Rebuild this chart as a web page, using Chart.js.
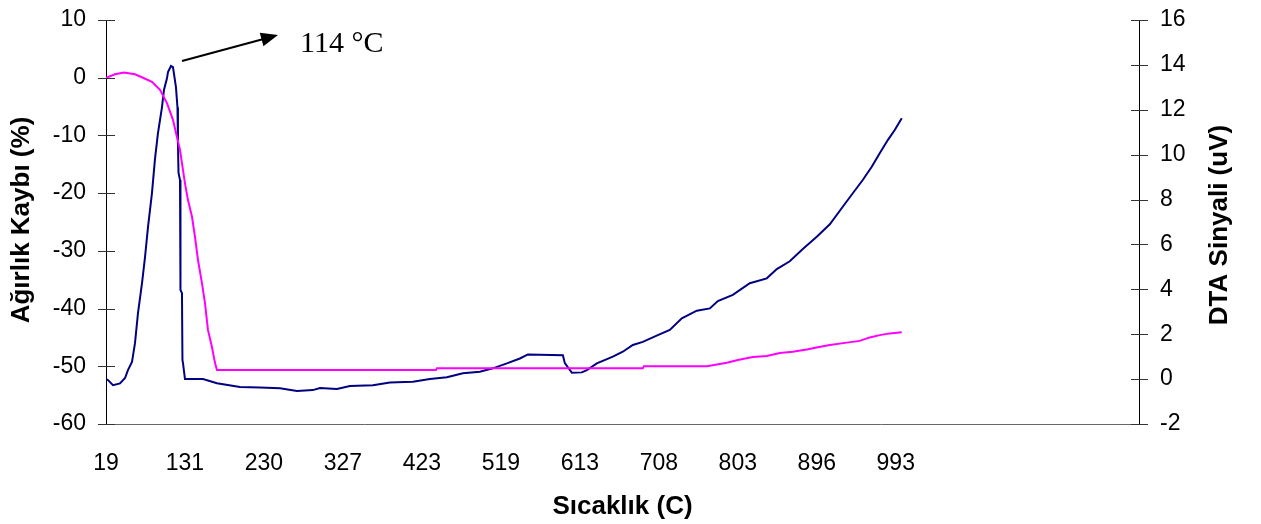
<!DOCTYPE html>
<html>
<head>
<meta charset="utf-8">
<script src="https://cdn.jsdelivr.net/npm/chart.js@4.4.0/dist/chart.umd.min.js"></script>
<style>body{margin:0;background:#fff}</style>
</head>
<body>
<canvas id="tgaChart" width="1261" height="524"></canvas>
<script>
// x positions are in "label steps": 0 = 19, 1 = 131, ... 10 = 993
var tempLabels = ['19', '131', '230', '327', '423', '519', '613', '708', '803', '896', '993'];

// Ağırlık kaybı (%) - left axis
var weightX = [0, 0.114, 0.228, 0.367, 0.468, 0.582, 0.684, 0.772, 0.848, 0.899, 0.937, 1.0, 1.038, 1.089,
    1.127, 1.165, 1.215, 1.253, 1.291, 1.342, 1.38, 1.405, 4.177, 4.19, 6.797, 6.81, 7.608, 7.861, 8.0, 8.19,
    8.367, 8.532, 8.696, 8.873, 9.013, 9.165, 9.38, 9.544, 9.671, 9.797, 9.924, 10.076];
var weightLoss = [0, 0.6, 0.9, 0.6, 0, -0.7, -2.1, -4.4, -7.3, -10.3, -12.5, -18.3, -21.2, -24.1,
    -27.6, -31.6, -35.6, -39.0, -43.7, -46.7, -49.4, -50.65, -50.65, -50.36, -50.36, -50.0, -50.0, -49.4, -48.9, -48.4,
    -48.2, -47.7, -47.5, -47.1, -46.7, -46.3, -45.9, -45.6, -45.0, -44.6, -44.3, -44.1];

// DTA sinyali (uV) - right axis
var dtaX = [0.013, 0.089, 0.177, 0.241, 0.278, 0.329, 0.367, 0.405, 0.456, 0.494, 0.532, 0.582, 0.62, 0.658,
    0.709, 0.734, 0.772, 0.785, 0.823, 0.848, 0.861, 0.886, 0.905, 0.911, 0.918, 0.937, 0.943, 0.962, 0.968,
    0.975, 1.0, 1.101, 1.228, 1.405, 1.696, 1.949, 2.203, 2.418, 2.62, 2.709, 2.924, 3.089, 3.38, 3.595, 3.886,
    4.101, 4.316, 4.519, 4.734, 4.899, 5.076, 5.241, 5.342, 5.785, 5.81, 5.899, 6.025, 6.089, 6.215, 6.418,
    6.544, 6.671, 6.797, 6.987, 7.139, 7.291, 7.481, 7.646, 7.747, 7.937, 8.152, 8.367, 8.494, 8.658, 8.823,
    9.0, 9.165, 9.329, 9.456, 9.582, 9.696, 9.797, 9.899, 9.987, 10.076];
var dtaSignal = [0.0, -0.27, -0.19, 0.05, 0.4, 0.76, 1.6, 2.94, 4.28, 5.44, 6.78, 8.29, 9.8, 10.96,
    12.12, 12.88, 13.4, 13.68, 13.95, 13.9, 13.6, 13.0, 12.1, 10.5, 9.2, 8.87, 3.97, 3.83, 0.85,
    0.71, 0.0, 0.0, 0.0, -0.18, -0.35, -0.37, -0.41, -0.53, -0.49, -0.4, -0.44, -0.31, -0.27, -0.15, -0.12,
    0.0, 0.08, 0.26, 0.33, 0.48, 0.7, 0.92, 1.1, 1.06, 0.71, 0.28, 0.3, 0.4, 0.7, 1.0,
    1.22, 1.52, 1.66, 1.96, 2.19, 2.71, 3.05, 3.15, 3.48, 3.75, 4.27, 4.49, 4.9, 5.25, 5.8,
    6.34, 6.9, 7.68, 8.28, 8.87, 9.46, 10.06, 10.65, 11.1, 11.62];

function toPoints(xs, ys) {
    var pts = [];
    for (var i = 0; i < xs.length; i++) {
        pts.push({x: xs[i], y: ys[i]});
    }
    return pts;
}

Chart.defaults.font.family = 'Liberation Sans';
Chart.defaults.color = '#000';

// cross tick marks on both value axes
var crossTicks = {
    id: 'crossTicks',
    afterDraw: function(chart) {
        var ctx = chart.ctx;
        ['y', 'y1'].forEach(function(id) {
            var scale = chart.scales[id];
            var ax = id === 'y' ? chart.chartArea.left : chart.chartArea.right;
            ctx.save();
            ctx.strokeStyle = '#333';
            ctx.lineWidth = 1;
            scale.ticks.forEach(function(t) {
                var py = Math.round(scale.getPixelForValue(t.value)) + 0.5;
                ctx.beginPath();
                ctx.moveTo(ax - 8, py);
                ctx.lineTo(ax + 9, py);
                ctx.stroke();
            });
            ctx.restore();
        });
    }
};

// axis titles and the peak note
var titlesAndNote = {
    id: 'titlesAndNote',
    afterDraw: function(chart) {
        var ctx = chart.ctx;
        var area = chart.chartArea;
        ctx.save();
        ctx.fillStyle = '#000';
        ctx.font = 'bold 26px "Liberation Sans"';
        ctx.textAlign = 'center';
        ctx.textBaseline = 'middle';
        ctx.fillText('Sıcaklık (C)', (area.left + area.right) / 2, 507);

        ctx.save();
        ctx.translate(22, 220);
        ctx.rotate(-Math.PI / 2);
        ctx.fillText('Ağırlık Kaybı (%)', 0, 0);
        ctx.restore();

        ctx.save();
        ctx.translate(1220, 225);
        ctx.rotate(-Math.PI / 2);
        ctx.fillText('DTA Sinyali (uV)', 0, 0);
        ctx.restore();

        // arrow from the DTA peak
        var peak = dtaSignal.indexOf(Math.max.apply(null, dtaSignal));
        var px = chart.scales.x.getPixelForValue(dtaX[peak]);
        var py = chart.scales.y1.getPixelForValue(dtaSignal[peak]);
        var x0 = px + 11, y0 = py - 5;
        var x1 = px + 107, y1 = py - 31;
        var ang = Math.atan2(y1 - y0, x1 - x0);
        ctx.strokeStyle = '#000';
        ctx.lineWidth = 2;
        ctx.beginPath();
        ctx.moveTo(x0, y0);
        ctx.lineTo(x1 - 14 * Math.cos(ang), y1 - 14 * Math.sin(ang));
        ctx.stroke();
        ctx.beginPath();
        ctx.moveTo(x1, y1);
        ctx.lineTo(x1 - 17 * Math.cos(ang) + 7 * Math.sin(ang), y1 - 17 * Math.sin(ang) - 7 * Math.cos(ang));
        ctx.lineTo(x1 - 17 * Math.cos(ang) - 7 * Math.sin(ang), y1 - 17 * Math.sin(ang) + 7 * Math.cos(ang));
        ctx.closePath();
        ctx.fill();

        ctx.font = '30px "Liberation Serif"';
        ctx.textAlign = 'left';
        ctx.textBaseline = 'alphabetic';
        ctx.fillText('114 °C', x1 + 22, y1 + 17);
        ctx.restore();
    }
};

function fitY(w) {
    return function(s) {
        s.width = w;
        s.paddingTop = 0;
        s.paddingBottom = 0;
    };
}

var tgaChart = new Chart(document.getElementById('tgaChart').getContext('2d'), {
    type: 'line',
    data: {
        datasets: [{
            label: 'Ağırlık Kaybı (%)',
            data: toPoints(weightX, weightLoss),
            borderColor: '#FF00FF',
            borderWidth: 2,
            pointRadius: 0,
            tension: 0,
            yAxisID: 'y'
        }, {
            label: 'DTA Sinyali (uV)',
            data: toPoints(dtaX, dtaSignal),
            borderColor: '#000080',
            borderWidth: 2,
            pointRadius: 0,
            tension: 0,
            yAxisID: 'y1'
        }]
    },
    options: {
        responsive: false,
        animation: false,
        layout: {padding: {top: 20, bottom: 0, left: 0, right: 0}},
        plugins: {legend: {display: false}, tooltip: {enabled: false}},
        scales: {
            x: {
                type: 'linear',
                min: 0,
                max: 13.08,
                afterFit: function(s) { s.height = 100; s.paddingLeft = 0; s.paddingRight = 0; },
                grid: {display: false, drawTicks: false},
                border: {display: true, color: '#666', width: 1},
                ticks: {
                    stepSize: 1,
                    autoSkip: false,
                    maxRotation: 0,
                    padding: 26,
                    font: {size: 23},
                    callback: function(v) {
                        return Number.isInteger(v) && tempLabels[v] ? tempLabels[v] : '';
                    }
                }
            },
            y: {
                position: 'left',
                min: -60,
                max: 10,
                afterFit: fitY(106),
                grid: {display: false, drawTicks: false},
                border: {display: true, color: '#000', width: 1},
                ticks: {stepSize: 10, padding: 20, font: {size: 23}}
            },
            y1: {
                position: 'right',
                min: -2,
                max: 16,
                afterFit: fitY(122),
                grid: {display: false, drawTicks: false},
                border: {display: true, color: '#000', width: 1},
                ticks: {stepSize: 2, padding: 21, font: {size: 23}}
            }
        }
    },
    plugins: [crossTicks, titlesAndNote]
});
</script>
</body>
</html>
